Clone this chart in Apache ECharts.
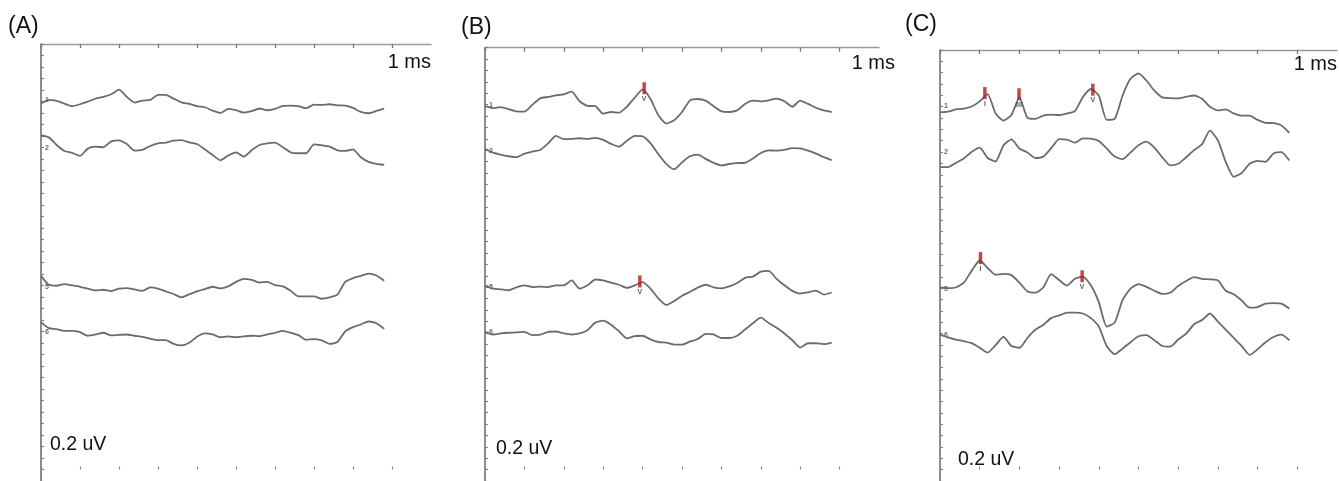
<!DOCTYPE html>
<html><head><meta charset="utf-8">
<script src="https://cdn.jsdelivr.net/npm/echarts@6/dist/echarts.min.js"></script>
<style>html,body{margin:0;padding:0;background:#fff}#c{width:1339px;height:481px}</style>
</head><body><div id="c"></div>
<script>
// time axis (ms) shared by all traces
const times = [0,0.2,0.4,0.6,0.8,1,1.2,1.4,1.6,1.8,2,2.2,2.4,2.6,2.8,3,3.2,3.4,3.6,3.8,4,4.2,4.4,4.6,4.8,5,5.2,5.4,5.6,5.8,6,6.2,6.4,6.6,6.8,7,7.2,7.4,7.6,7.8,8,8.2,8.4,8.6,8.8];
const timeTicks = [0,1,2,3,4,5,6,7,8,9];

// Panel A traces (amplitude in vertical divisions)
const a1 = [31.82,32.14,32.05,31.82,31.59,31.76,31.99,32.25,32.40,32.63,33.03,32.40,31.91,32.08,32.14,32.57,32.57,32.25,31.93,31.79,31.59,31.50,31.21,31.01,31.36,31.24,31.04,31.16,31.39,31.24,31.36,31.62,31.65,31.59,31.42,31.73,31.70,31.76,31.67,31.65,31.44,31.10,30.98,31.18,31.39];
const a2 = [29.08,28.88,28.22,27.70,27.53,27.27,27.90,28.07,28.02,28.53,28.62,28.30,27.73,27.79,28.13,28.36,28.42,28.59,28.65,28.45,28.30,27.84,27.35,26.89,27.30,27.58,27.21,27.76,28.22,28.36,28.42,28.02,27.58,27.50,27.50,28.28,28.19,28.07,27.76,27.70,27.84,27.15,26.75,26.57,26.49];
const a5 = [16.84,16.06,15.98,16.12,16.01,15.89,15.72,15.57,15.63,15.52,15.72,15.77,15.66,15.54,15.83,15.72,15.49,15.26,14.97,15.23,15.49,15.69,15.89,15.75,15.92,16.32,16.58,16.49,16.26,16.32,16.03,15.92,15.54,15.05,15.05,15.05,14.85,14.97,15.20,16.32,16.64,16.84,17.04,16.87,16.41];
const a6 = [12.81,12.29,12.20,12.06,12.06,11.94,11.63,11.74,11.89,11.66,11.71,11.74,11.63,11.54,11.37,11.25,11.25,10.93,10.79,11.02,11.54,11.83,11.74,11.51,11.57,11.51,11.57,11.63,11.60,11.74,11.89,12.06,11.89,11.68,11.28,11.34,11.22,10.93,11.08,12.00,12.38,12.61,12.87,12.72,12.23];

// Panel B traces
const b1 = [31.87,31.70,31.79,31.61,31.41,31.39,31.99,32.56,32.68,32.82,32.91,33.14,32.30,31.90,31.87,31.21,31.36,31.30,31.82,32.62,33.34,32.50,31.07,30.35,30.64,31.36,32.36,32.50,32.36,31.87,31.41,31.36,31.50,32.07,32.36,32.30,32.39,32.53,32.30,31.82,32.36,32.07,31.73,31.50,31.36];
const b2 = [28.14,27.80,27.63,27.48,27.40,27.71,27.89,28.03,28.60,29.26,28.98,29.00,29.06,29.00,29.09,28.92,28.57,28.32,28.83,29.26,29.23,28.63,27.66,26.82,26.34,26.94,27.48,27.63,27.25,26.91,26.68,26.80,26.88,26.91,27.28,27.77,28.00,27.97,28.03,28.20,28.17,27.97,27.71,27.40,27.14];
const b5 = [16.16,15.87,15.81,15.73,15.99,16.16,16.01,16.04,16.01,16.16,16.16,16.59,15.87,16.16,16.67,16.59,16.39,16.21,15.93,16.16,16.44,15.87,15.01,14.44,14.78,15.24,15.58,15.96,16.21,15.99,15.90,16.07,16.36,16.82,16.93,17.36,17.42,16.73,16.16,15.67,15.44,15.55,15.70,15.35,15.53];
const b6 = [12.08,11.85,11.94,12.00,12.03,12.08,11.80,11.83,12.08,12.11,11.94,11.85,11.94,12.23,12.89,13.06,12.71,12.14,11.51,11.71,11.74,11.42,11.19,11.14,10.96,10.96,11.22,11.45,11.91,11.85,11.54,11.54,11.74,12.28,12.83,13.32,12.86,12.43,11.94,11.34,10.71,11.08,11.08,11.00,11.14];

// Panel C traces
const c1 = [31.50,31.56,31.76,31.84,32.02,32.47,33.11,31.41,30.78,31.27,32.82,31.04,30.93,31.21,31.30,31.27,31.41,31.61,32.85,33.56,32.99,30.84,30.93,32.99,34.48,34.94,34.31,33.42,32.82,32.76,32.73,32.88,32.99,32.70,31.99,31.67,31.76,31.41,31.21,31.21,30.84,30.58,30.55,30.35,29.69];
const c2 = [26.68,26.68,27.05,27.43,28.03,28.40,27.48,27.17,28.60,29.12,28.32,27.97,27.48,27.60,28.34,29.15,29.09,28.83,29.20,29.18,28.97,28.32,27.60,27.37,27.97,28.60,28.92,28.40,27.54,26.82,26.97,27.54,28.17,28.69,29.89,29.03,27.11,25.82,26.16,26.97,27.23,27.14,27.88,28.00,27.25];
const c5 = [16.06,16.00,16.06,16.49,17.55,18.44,17.78,17.18,17.27,17.15,16.49,15.72,15.60,16.06,17.24,16.72,16.23,16.83,17.01,16.26,14.77,12.62,12.96,14.97,15.97,16.35,16.12,15.77,15.49,15.60,16.20,16.63,16.98,16.83,16.78,16.69,15.77,15.46,14.91,14.28,14.34,14.63,14.68,14.63,14.20];
const c6 = [11.90,11.67,11.47,11.33,11.15,10.75,10.32,10.98,11.70,10.90,10.75,11.61,12.33,12.76,13.36,13.59,13.85,13.85,13.77,13.36,12.62,10.90,10.18,10.67,11.24,11.76,11.87,11.41,10.90,10.84,11.47,11.99,12.82,13.19,13.77,13.05,12.33,11.61,10.90,10.12,10.61,11.24,11.70,11.90,11.41];

// wave peak markers [latency ms, amplitude, wave name]
const markersA = [];
const markersB = [[4.04,33.45,'V'],[3.93,16.5,'V']];
const markersC = [[1.13,33.2,'I'],[1.99,33.1,'III'],[3.85,33.5,'V'],[1.02,18.65,'I'],[3.58,17.05,'V']];

// channel labels [t, amplitude, label]
const chanLabelsA = [[0.15,32.1,'1'],[0.15,27.96,'2'],[0.15,15.86,'5'],[0.15,11.97,'6']];
const chanLabelsB = [[0.15,31.99,'1'],[0.15,27.94,'2'],[0.15,15.98,'5'],[0.15,12.02,'6']];
const chanLabelsC = [[0.15,32.1,'1'],[0.15,27.97,'2'],[0.15,15.92,'5'],[0.15,11.88,'6']];

const panelLabels = ['(A)','(B)','(C)'];
const timeScaleLabel = '1 ms';
const ampScaleLabel = '0.2 uV';

const panels = [
  {traces:[a1,a2,a5,a6], markers:markersA, chans:chanLabelsA, left:41, top:44, width:390, height:439.7,
   lbl:[8,27], ms:[431,62], uv:[50,445]},
  {traces:[b1,b2,b5,b6], markers:markersB, chans:chanLabelsB, left:485, top:47.7, width:394, height:441.6,
   lbl:[461,28], ms:[895,63], uv:[496,449]},
  {traces:[c1,c2,c5,c6], markers:markersC, chans:chanLabelsC, left:940, top:50, width:397, height:441.6,
   lbl:[905,25], ms:[1337,64], uv:[958,460]}
];

const grid = [], xAxis = [], yAxis = [], series = [], graphic = [];
const FONT = '"Liberation Sans", Arial, sans-serif';
panels.forEach((p, i) => {
  grid.push({left:p.left, top:p.top, width:p.width, height:p.height, containLabel:false});
  xAxis.push({type:'value', gridIndex:i, position:'top', min:0, max:10,
    axisLine:{show:true, onZero:false, lineStyle:{color:'#9a9a9a', width:1.3}},
    axisTick:{show:true, inside:true, length:4, customValues:timeTicks, lineStyle:{color:'#7a7a7a', width:1.3}},
    axisLabel:{show:false}, splitLine:{show:false}});
  xAxis.push({type:'value', gridIndex:i, position:'bottom', min:0, max:10,
    axisLine:{show:false, onZero:true},
    axisTick:{show:true, inside:true, length:3, customValues:timeTicks, lineStyle:{color:'#8a8a8a', width:1.2}},
    axisLabel:{show:false}, splitLine:{show:false}});
  yAxis.push({type:'value', gridIndex:i, min:-1, max:37, interval:1,
    axisLine:{show:true, onZero:false, lineStyle:{color:'#707070', width:1.6}},
    axisTick:{show:true, inside:true, length:3, lineStyle:{color:'#808080', width:1.2}},
    axisLabel:{show:false}, splitLine:{show:false}});
  p.traces.forEach(vals => {
    series.push({type:'line', xAxisIndex:i*2, yAxisIndex:i, showSymbol:false, symbol:'none', smooth:0.2,
      animation:false, silent:true,
      lineStyle:{color:'#6b6b6b', width:1.8},
      data: times.map((t, k) => [t, vals[k]])});
  });
  series.push({type:'scatter', xAxisIndex:i*2, yAxisIndex:i, symbolSize:0, silent:true, animation:false,
    data: p.chans.map(c => ({value:[c[0], c[1]], name:c[2]})),
    label:{show:true, position:'inside', formatter:'{b}', fontSize:7, fontWeight:'bold', color:'#444', fontFamily:FONT}});
  if (p.markers.length) {
    series.push({type:'scatter', xAxisIndex:i*2, yAxisIndex:i, symbol:'rect', symbolSize:[3.5,12], silent:true,
      animation:false, z:5, itemStyle:{color:'#b31b1b'},
      data: p.markers.map(m => ({value:[m[0], m[1]], name:m[2]})),
      label:{show:true, position:'bottom', distance:1, formatter:'{b}', fontSize:7, fontWeight:'bold', color:'#333', fontFamily:FONT}});
  }
  graphic.push({type:'text', x:p.lbl[0], y:p.lbl[1], style:{text:panelLabels[i], font:'23px ' + FONT, fill:'#111', verticalAlign:'middle', align:'left'}});
  graphic.push({type:'text', x:p.ms[0], y:p.ms[1], style:{text:timeScaleLabel, font:'20px ' + FONT, fill:'#111', verticalAlign:'middle', align:'right'}});
  graphic.push({type:'text', x:p.uv[0], y:p.uv[1], style:{text:ampScaleLabel, font:'19.5px ' + FONT, fill:'#111', verticalAlign:'middle', align:'left'}});
});

const chart = echarts.init(document.getElementById('c'), null, {renderer:'canvas'});
chart.setOption({backgroundColor:'#ffffff', animation:false, grid, xAxis, yAxis, series, graphic});
</script></body></html>
